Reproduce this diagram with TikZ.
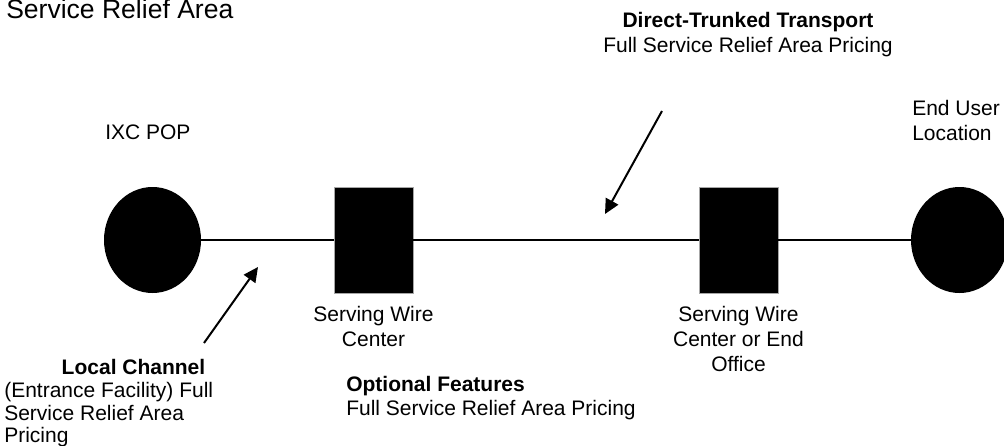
\documentclass[tikz,border=0pt]{standalone}
\usepackage{fontspec}
\setmainfont{Liberation Sans}
\usepackage{tikz}
\usetikzlibrary{shapes.geometric}
\usetikzlibrary{arrows.meta}

\begin{document}
\begin{tikzpicture}[
		x=0.75pt, y=-0.75pt,
		blob/.style={ellipse, fill=black, inner sep=0, minimum width=72.75pt, minimum height=79.5pt},
		wirebox/.style={rectangle, draw=black!35, line width=0.4pt, fill=black, inner sep=0, minimum width=59.25pt, minimum height=79.5pt},
		trunk/.style={line width=1pt},
		ptr/.style={line width=1.5pt, -{Triangle[length=11pt,width=10.5pt]}},
		lbl/.style={inner sep=0, font=\fontsize{15.75}{18.75}\selectfont},
		hd/.style={inner sep=0, font=\fontsize{15.75}{18.75}\selectfont\bfseries}
	]
		\useasboundingbox (0,0) rectangle (1004,446);

		% stations along the route
		\node[blob] (pop) at (152.5,240) {};
		\node[wirebox] (swc) at (373.5,240) {};
		\node[wirebox] (eo) at (738.5,240) {};
		\node[blob] (eu) at (959.5,240) {};
		\draw[trunk] (pop) -- (swc) -- (eo) -- (eu);

		% labels
		\node[inner sep=0, font=\fontsize{19.9}{24}\selectfont, anchor=base west] (title) at (6,18) {Service Relief Area};
		\node[lbl, anchor=base west] (popLbl) at (105,139) {IXC POP};
		\node[lbl, anchor=north west, align=left] (euLbl) at (912,100) {End User\\Location};
		\node[lbl, anchor=north, align=center] (swcLbl) at (373.5,306) {Serving Wire\\Center};
		\node[lbl, anchor=north, align=center] (eoLbl) at (738.5,306) {Serving Wire\\Center or End\\Office};
		\node[lbl, anchor=north, align=center] (dttLbl) at (748,12) {\textbf{Direct-Trunked Transport}\\Full Service Relief Area Pricing};
		\node[hd, anchor=base] (lcHd) at (133.5,374) {Local Channel};
		\node[lbl, font=\fontsize{15.75}{16.9}\selectfont, anchor=north west, align=left] (lcLbl) at (4,382) {(Entrance Facility) Full\\Service Relief Area\\Pricing};
		\node[hd, anchor=base west] (ofHd) at (346,391) {Optional Features};
		\node[lbl, anchor=base west] (ofLbl) at (346,415) {Full Service Relief Area Pricing};

		% pointers
		\coordinate (dttTail) at (662,111);
		\coordinate (dttTip) at (605,214);
		\coordinate (lcTail) at (204,343);
		\coordinate (lcTip) at (258,267);
		\draw[ptr] (dttTail) -- (dttTip);
		\draw[ptr] (lcTail) -- (lcTip);
	\end{tikzpicture}
\end{document}
